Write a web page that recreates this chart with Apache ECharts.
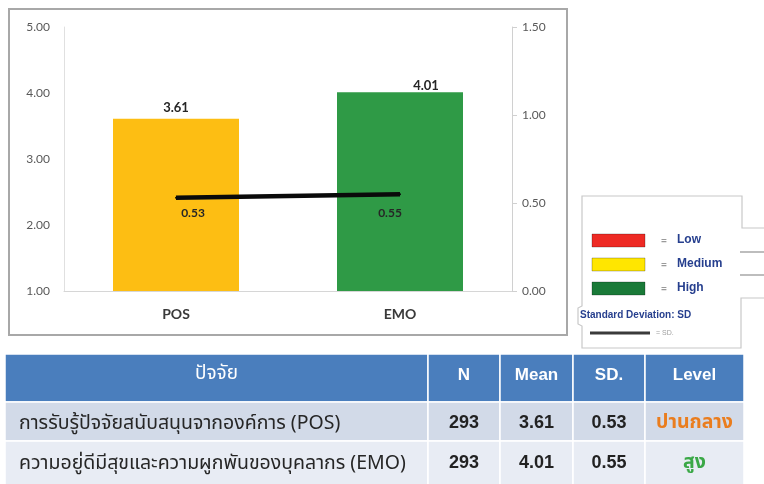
<!DOCTYPE html>
<html>
<head>
<meta charset="utf-8">
<script src="https://cdn.jsdelivr.net/npm/echarts@6/dist/echarts.min.js"></script>
<style>
  html, body { margin: 0; padding: 0; background: #ffffff; }
  #chart { width: 764px; height: 484px; }
</style>
</head>
<body>
<div id="chart"></div>
<script>
// Factor data
const categories = ['POS', 'EMO'];
const meanValues = [3.61, 4.01];
const sdValues = [0.53, 0.55];
const nValues = [293, 293];
const factorNames = [
  'การรับรู้ปัจจัยสนับสนุนจากองค์การ (POS)',
  'ความอยู่ดีมีสุขและความผูกพันของบุคลากร (EMO)'
];
const levelLabels = ['ปานกลาง', 'สูง'];
const tableHeaders = ['ปัจจัย', 'N', 'Mean', 'SD.', 'Level'];
const meanTicks = [1, 2, 3, 4, 5];
const sdTicks = [0, 0.5, 1.0, 1.5];
const legendLevels = ['Low', 'Medium', 'High'];

// Styling
const barColors = ['#fdbe13', '#2f9a46'];
const levelColors = ['#ea7d1e', '#3aa846'];
const legendColors = ['#ee2a24', '#ffe600', '#1a7a38'];
const navy = '#263f8e';
const thaiFont = '"Noto Sans Thai", "Tahoma", "DejaVu Sans", sans-serif';
const axisFont = 'Lato, "Open Sans", sans-serif';
const narrowFont = '"Liberation Sans Narrow", "Liberation Sans", Arial, sans-serif';

const chart = echarts.init(document.getElementById('chart'), null, { renderer: 'canvas' });

// ---- Table built from the data arrays ----
const colEdges = [5, 428, 500, 573, 645, 744];
const rowEdges = [354, 402, 441, 488];
const rowTextY = [375, 423, 463];
const rowFills = ['#4a7ebd', '#d2dae8', '#e8ecf4'];
const tableGraphics = [];
for (let r = 0; r < 3; r++) {
  for (let c = 0; c < 5; c++) {
    const x0 = colEdges[c], x1 = colEdges[c + 1];
    const y0 = rowEdges[r], y1 = rowEdges[r + 1];
    tableGraphics.push({
      type: 'rect', silent: true,
      shape: { x: x0, y: y0, width: x1 - x0, height: y1 - y0 },
      style: { fill: rowFills[r], stroke: '#ffffff', lineWidth: 1.5 }
    });
    let text, color = '#222222', weight = 'bold', font = narrowFont, size = 18;
    let align = 'center', tx = (x0 + x1) / 2, ty = rowTextY[r];
    if (r === 0) {
      text = tableHeaders[c]; color = '#ffffff';
      font = c === 0 ? thaiFont : narrowFont;
      size = c === 0 ? 19 : 17;
      if (c === 0) weight = 'normal';
    } else {
      const i = r - 1;
      if (c === 0) {
        text = factorNames[i]; align = 'left'; tx = x0 + 14; ty += 2;
        weight = 'normal'; font = thaiFont; size = 19.5; color = '#262626';
      } else if (c === 1) { text = String(nValues[i]); }
      else if (c === 2) { text = meanValues[i].toFixed(2); }
      else if (c === 3) { text = sdValues[i].toFixed(2); }
      else { text = levelLabels[i]; color = levelColors[i]; font = thaiFont; size = 19.5; ty += 1; }
    }
    tableGraphics.push({
      type: 'text', silent: true,
      x: tx, y: ty,
      style: {
        text: text, fill: color, font: weight + ' ' + size + 'px ' + font,
        align: align, verticalAlign: 'middle'
      }
    });
  }
}

// ---- Legend box ----
const legendGraphics = [
  { type: 'polyline', silent: true,
    shape: { points: [[764, 228], [742, 228], [742, 196], [582, 196], [582, 306], [578, 308], [578, 324], [582, 326], [582, 348], [741, 348], [741, 298], [764, 298]] },
    style: { stroke: '#c8c8c8', lineWidth: 1.2, fill: '#ffffff' } },
  { type: 'line', silent: true, shape: { x1: 740, y1: 252, x2: 764, y2: 252 }, style: { stroke: '#bdbdbd', lineWidth: 2 } },
  { type: 'line', silent: true, shape: { x1: 740, y1: 275, x2: 764, y2: 275 }, style: { stroke: '#bdbdbd', lineWidth: 2 } }
];
legendLevels.forEach(function (name, i) {
  const cy = 240 + i * 24;
  legendGraphics.push({
    type: 'rect', silent: true,
    shape: { x: 592, y: cy - 6, width: 53, height: 13 },
    style: { fill: legendColors[i], stroke: 'rgba(0,0,0,0.25)', lineWidth: 1 }
  });
  legendGraphics.push({
    type: 'text', silent: true, x: 664, y: cy,
    style: { text: '=', fill: '#9a9a9a', font: 'bold 11px ' + axisFont, align: 'center', verticalAlign: 'middle' }
  });
  legendGraphics.push({
    type: 'text', silent: true, x: 677, y: cy,
    style: { text: name, fill: navy, font: 'bold 12px "Liberation Sans", Arial, sans-serif', verticalAlign: 'middle' }
  });
});
legendGraphics.push({
  type: 'text', silent: true, x: 580, y: 315,
  style: { text: 'Standard Deviation: SD', fill: navy, font: 'bold 10px "Liberation Sans", Arial, sans-serif', verticalAlign: 'middle' }
});
legendGraphics.push({
  type: 'line', silent: true, shape: { x1: 590, y1: 333, x2: 650, y2: 333 },
  style: { stroke: '#3a3a3a', lineWidth: 3 }
});
legendGraphics.push({
  type: 'text', silent: true, x: 656, y: 333,
  style: { text: '= SD.', fill: '#a0a0a0', font: '7px "Liberation Sans", Arial, sans-serif', verticalAlign: 'middle' }
});

// ---- Chart frame ----
const frame = {
  type: 'rect', silent: true, z: -1,
  shape: { x: 9, y: 9, width: 558, height: 326 },
  style: { fill: '#ffffff', stroke: '#a8a8a8', lineWidth: 2 }
};

const option = {
  animation: false,
  backgroundColor: '#ffffff',
  grid: { left: 64, right: 252, top: 27, bottom: 193, containLabel: false },
  xAxis: {
    type: 'category',
    data: categories,
    axisLine: { lineStyle: { color: '#d6d6d6', width: 1 } },
    axisTick: { show: false },
    axisLabel: { margin: 16, color: '#3a3a3a', fontWeight: 'bold', fontSize: 14, fontFamily: axisFont }
  },
  yAxis: [
    {
      type: 'value', min: meanTicks[0], max: meanTicks[meanTicks.length - 1], interval: 1,
      axisLine: { show: true, lineStyle: { color: '#e0e0e0' } },
      axisTick: { show: false },
      splitLine: { show: false },
      axisLabel: { margin: 14, color: '#595959', fontSize: 12, fontFamily: axisFont,
        formatter: function (v) { return v.toFixed(2); } }
    },
    {
      type: 'value', min: sdTicks[0], max: sdTicks[sdTicks.length - 1], interval: 0.5,
      position: 'right',
      axisLine: { show: true, lineStyle: { color: '#d0d0d0' } },
      axisTick: { show: true, inside: false, length: 5, lineStyle: { color: '#d0d0d0' } },
      splitLine: { show: false },
      axisLabel: { margin: 10, color: '#595959', fontSize: 12, fontFamily: axisFont,
        formatter: function (v) { return v.toFixed(2); } }
    }
  ],
  series: [
    {
      name: 'Mean', type: 'bar', yAxisIndex: 0, barWidth: 126,
      data: meanValues.map(function (v, i) {
        return {
          value: v,
          itemStyle: { color: barColors[i] },
          label: i === 1 ? { offset: [26, 4] } : {}
        };
      }),
      label: {
        show: true, position: 'top', distance: 4,
        color: '#262626', fontWeight: 'bold', fontSize: 13, fontFamily: axisFont,
        formatter: function (p) { return p.value.toFixed(2); }
      }
    },
    {
      name: 'SD', type: 'line', yAxisIndex: 1,
      showSymbol: true, symbol: 'circle', symbolSize: 2,
      itemStyle: { color: '#0a0a0a' },
      lineStyle: { color: '#0a0a0a', width: 4.5 },
      data: sdValues.map(function (v, i) {
        return {
          value: v,
          label: { offset: i === 0 ? [17, 2] : [-10, 6] }
        };
      }),
      label: {
        show: true, position: 'bottom', distance: 6,
        color: '#262626', fontWeight: 'bold', fontSize: 12, fontFamily: axisFont,
        formatter: function (p) { return p.value.toFixed(2); }
      }
    }
  ],
  graphic: [frame].concat(legendGraphics, tableGraphics)
};

chart.setOption(option);
</script>
</body>
</html>
